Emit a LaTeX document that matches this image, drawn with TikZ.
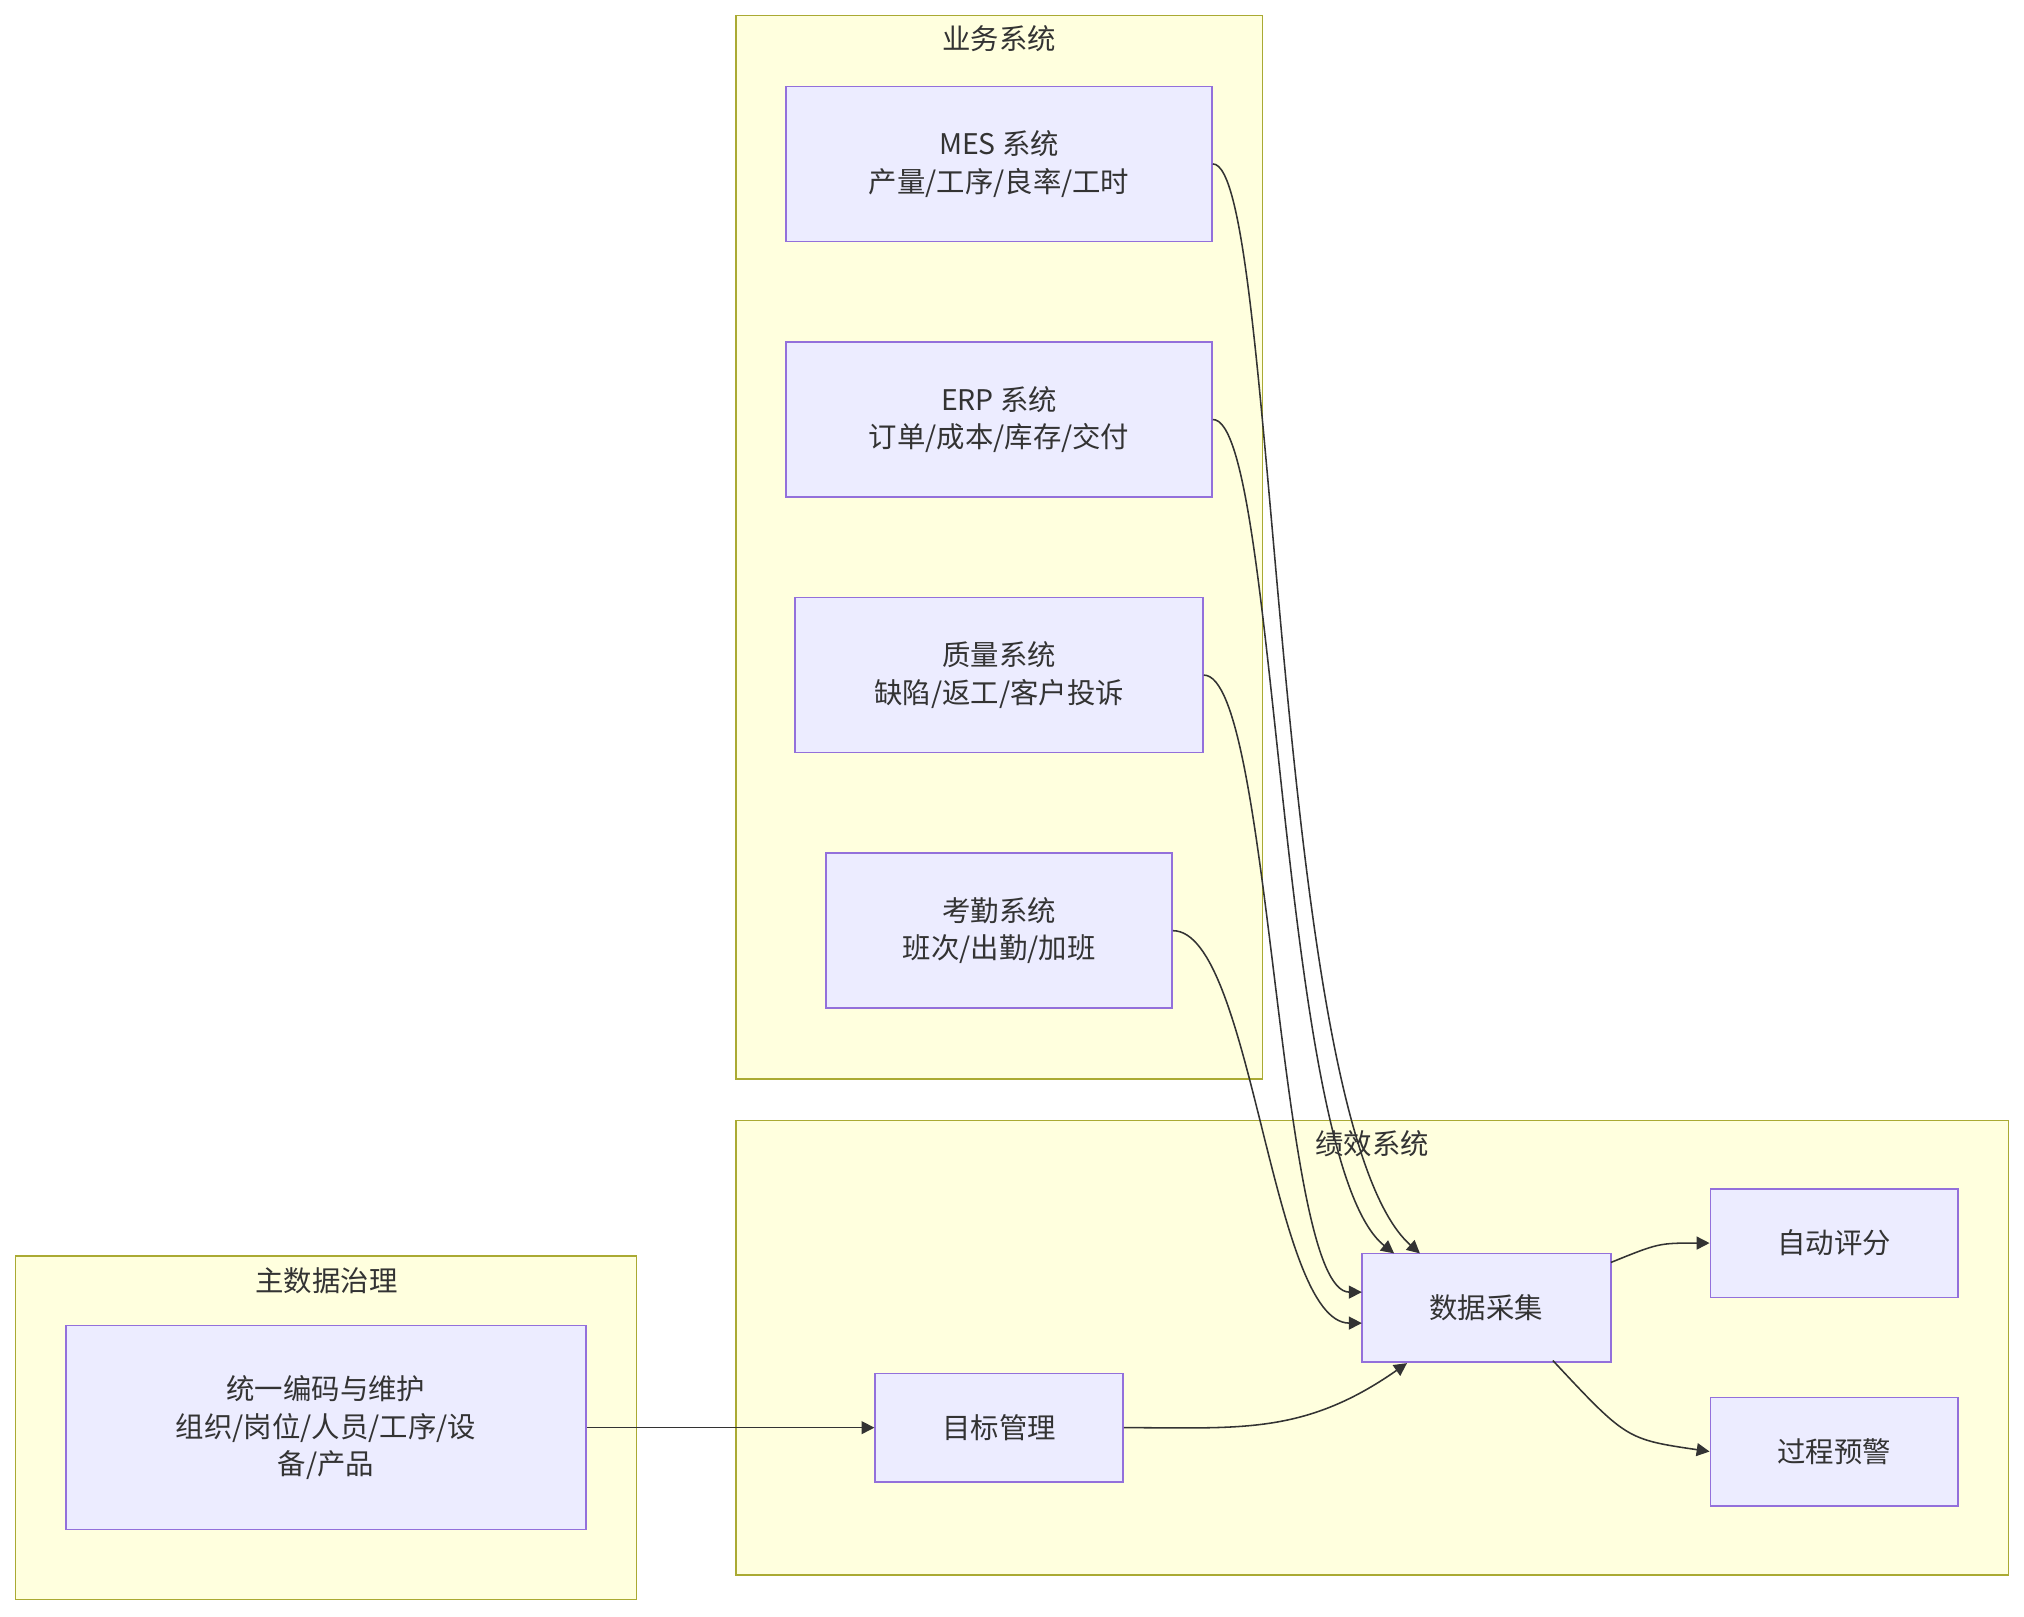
\documentclass[tikz,border=0pt]{standalone}
\usepackage{fontspec}
\setmainfont{Noto Sans CJK SC}
\usetikzlibrary{arrows.meta,calc}
\definecolor{boxfill}{HTML}{ECECFF}
\definecolor{boxline}{HTML}{9370DB}
\definecolor{grpfill}{HTML}{FFFFDE}
\definecolor{grpline}{HTML}{AAAA33}
\definecolor{linkc}{HTML}{333333}
\begin{document}
\begin{tikzpicture}
        [x=0.5pt, y=-0.5pt,
        font=\fontsize{11}{14.5}\selectfont,
        group/.style={draw=grpline, fill=grpfill, line width=0.6pt},
        title/.style={text=linkc},
        box/.style={draw=boxline, fill=boxfill, line width=0.6pt, text=linkc, align=center},
        link/.style={draw=linkc, line width=0.6pt, -{Triangle[length=5pt,width=5pt]}}]

        \useasboundingbox (0,0) rectangle (1568,1252);

        % clusters
        \draw[group] (570,12) rectangle (978,836);
        \draw[group] (570,868) rectangle (1556,1220);
        \draw[group] (12,973) rectangle (493,1239);
        \node[title] (tbiz) at (774,30) {业务系统};
        \node[title] (tperf) at (1063,886) {绩效系统};
        \node[title] (tmdm) at (253,992) {主数据治理};

        % business systems
        \node[box, minimum width=165pt, minimum height=60pt] (mes) at (774,127) {MES 系统\\产量/工序/良率/工时};
        \node[box, minimum width=165pt, minimum height=60pt] (erp) at (774,325) {ERP 系统\\订单/成本/库存/交付};
        \node[box, minimum width=158pt, minimum height=60pt] (qms) at (774,523) {质量系统\\缺陷/返工/客户投诉};
        \node[box, minimum width=134pt, minimum height=60pt] (att) at (774,721) {考勤系统\\班次/出勤/加班};

        % master data
        \node[box, minimum width=201.5pt, minimum height=79pt] (code) at (252.5,1106) {统一编码与维护\\组织/岗位/人员/工序/设\\备/产品};

        % performance system
        \node[box, minimum width=96pt, minimum height=42pt] (goal) at (774,1106) {目标管理};
        \node[box, minimum width=96.5pt, minimum height=42pt] (collect) at (1151.5,1013) {数据采集};
        \node[box, minimum width=96pt, minimum height=42pt] (score) at (1421,963) {自动评分};
        \node[box, minimum width=96pt, minimum height=42pt] (warn) at (1421,1124.5) {过程预警};

        \coordinate (inmes) at (1100,971);
        \coordinate (inerp) at (1080,971);
        \coordinate (inqms) at (1055,1001);
        \coordinate (inatt) at (1055,1025);
        \coordinate (ingoal) at (1090,1056);
        \coordinate (outscore) at (1248,978);
        \coordinate (outwarn) at (1203,1054);

        % links
        \draw[link] (mes.east) .. controls (990,127) and (985,870) .. (inmes);
        \draw[link] (erp.east) .. controls (990,325) and (990,900) .. (inerp);
        \draw[link] (qms.east) .. controls (985,523) and (990,1001) .. (inqms);
        \draw[link] (att.east) .. controls (970,721) and (985,1025) .. (inatt);
        \draw[link] (code.east) -- (goal.west);
        \draw[link] (goal.east) .. controls (960,1106) and (1010,1112) .. (ingoal);
        \draw[link] (outscore) .. controls (1285,963) .. (score.west);
        \draw[link] (outwarn) .. controls (1260,1115) .. (warn.west);

        \end{tikzpicture}
\end{document}
